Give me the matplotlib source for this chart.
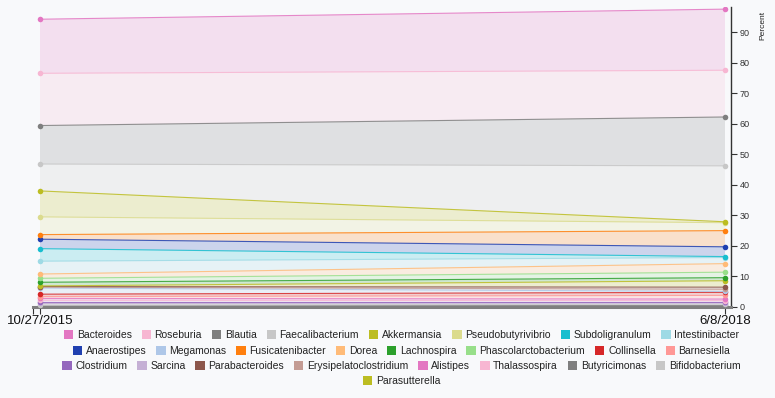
import matplotlib
matplotlib.use("Agg")
import matplotlib.pyplot as plt
from matplotlib.patches import Patch
import numpy as np

plt.rcParams['font.family'] = ['Liberation Sans', 'DejaVu Sans']

# ---- data ----
dates = ["10/27/2015", "6/8/2018"]
series_names = ["Bacteroides", "Roseburia", "Blautia", "Faecalibacterium", "Akkermansia",
                "Pseudobutyrivibrio", "Subdoligranulum", "Intestinibacter", "Anaerostipes",
                "Megamonas", "Fusicatenibacter", "Dorea", "Lachnospira", "Phascolarctobacterium",
                "Collinsella", "Barnesiella", "Clostridium", "Sarcina", "Parabacteroides",
                "Erysipelatoclostridium", "Alistipes", "Thalassospira", "Butyricimonas",
                "Bifidobacterium", "Parasutterella"]
val_2015 = [17.7, 17.1, 12.6, 8.8, 8.5, 5.8, 4.1, 4.2, 3.1, 2.0, 1.5, 1.4, 1.2, 1.3,
            0.8, 0.6, 0.55, 0.5, 0.2, 0.3, 0.6, 0.5, 0.35, 0.3, 0.2]
val_2018 = [20.0, 15.3, 16.0, 18.3, 0.3, 2.6, 0.3, 2.0, 3.2, 0.3, 5.3, 2.8, 1.0, 1.8,
            1.0, 1.2, 0.4, 0.4, 0.7, 0.7, 0.5, 0.4, 0.5, 0.4, 2.1]
# stacking order, bottom to top
stack_order = ["Butyricimonas", "Bifidobacterium", "Sarcina", "Clostridium", "Thalassospira",
               "Alistipes", "Barnesiella", "Collinsella", "Megamonas", "Erysipelatoclostridium",
               "Parabacteroides", "Parasutterella", "Lachnospira", "Phascolarctobacterium",
               "Dorea", "Intestinibacter", "Subdoligranulum", "Anaerostipes", "Fusicatenibacter",
               "Pseudobutyrivibrio", "Akkermansia", "Faecalibacterium", "Blautia", "Roseburia",
               "Bacteroides"]

# ---- style ----
colors = ["#e377c2", "#f7b6d2", "#7f7f7f", "#c7c7c7", "#bcbd22", "#dbdb8d", "#17becf",
          "#9edae5", "#2040b0", "#aec7e8", "#ff7f0e", "#ffbb78", "#2ca02c", "#98df8a",
          "#d62728", "#ff9896", "#9467bd", "#c5b0d5", "#8c564b", "#c49c94", "#e377c2",
          "#f7b6d2", "#7f7f7f", "#c7c7c7", "#bcbd22"]
color_of = dict(zip(series_names, colors))
bg = "#f8f9fb"

W, H = 775, 398
fig = plt.figure(figsize=(W / 100, H / 100), dpi=100, facecolor=bg)
ax = fig.add_axes([33 / W, 1 - 307 / H, (731 - 33) / W, (307 - 7.3) / H], facecolor=bg)

x = np.arange(len(dates))
idx = {n: i for i, n in enumerate(series_names)}
vals = np.array([[val_2015[idx[n]], val_2018[idx[n]]] for n in stack_order])
stack_colors = [color_of[n] for n in stack_order]

ax.stackplot(x, vals, colors=stack_colors, alpha=0.2, linewidth=0)
tops = np.cumsum(vals, axis=0)
for top, c in zip(tops, stack_colors):
    ax.plot(x, top, color=c, lw=0.8, alpha=0.85, zorder=3)
    ax.plot(x, top, 'o', color=c, ms=4, mec='none', zorder=4)

ax.set_xlim(-7 / 685, 1 + 6 / 685)
ax.set_ylim(0, 98.1)

for s in ["top", "left"]:
    ax.spines[s].set_visible(False)
ax.spines["right"].set_color("#333333")
ax.spines["right"].set_linewidth(1)
ax.spines["bottom"].set_color("#7f7f7f")
ax.spines["bottom"].set_linewidth(2.2)

ax.yaxis.tick_right()
ax.set_yticks(range(0, 100, 10))
ax.tick_params(axis='y', direction='out', length=4, width=0.8, color='#333333',
               labelsize=6.5, labelcolor='#333333', pad=2)
ax.set_xticks(x)
ax.set_xticklabels(dates)
ax.set_xticks([-7 / 685], minor=True)
ax.tick_params(axis='x', which='both', direction='out', length=5, width=0.8, color='#333333',
               labelsize=9.5, labelcolor='#111111', pad=1)

fig.text(763 / W, 1 - 25 / H, "Percent", rotation=90, ha='center', va='center',
         fontsize=6, color='#222222')

# legend rows
rows = [series_names[0:8], series_names[8:16], series_names[16:24], series_names[24:]]
row_y = [335, 351, 366, 381]
for names, yy in zip(rows, row_y):
    handles = [Patch(facecolor=color_of[n], edgecolor='none') for n in names]
    fig.legend(handles, names, loc='center', bbox_to_anchor=(0.518, 1 - yy / H),
               ncol=len(names), frameon=False, fontsize=7.5, handlelength=0.9,
               handleheight=0.9, handletextpad=0.35, columnspacing=0.95,
               borderpad=0, borderaxespad=0, labelcolor='#222222')

fig.savefig("out.png", dpi=100, facecolor=bg)
